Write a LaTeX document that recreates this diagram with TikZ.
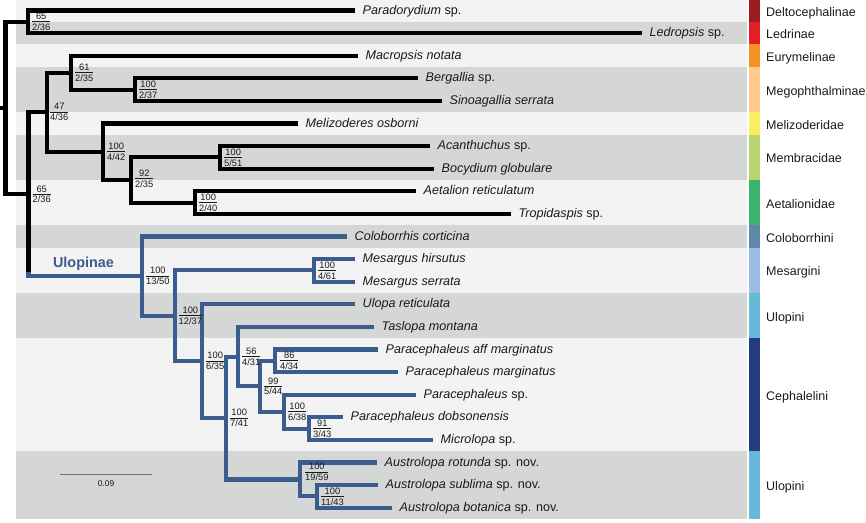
\documentclass[tikz,border=0pt]{standalone}
\usepackage{fontspec}
\setmainfont{Liberation Sans}
\definecolor{bluebr}{RGB}{59,93,141}
\definecolor{bandL}{RGB}{243,243,243}
\definecolor{bandD}{RGB}{213,214,214}
\definecolor{cDelto}{RGB}{156,27,32}
\definecolor{cLedr}{RGB}{228,30,37}
\definecolor{cEury}{RGB}{243,147,35}
\definecolor{cMego}{RGB}{253,204,141}
\definecolor{cMeli}{RGB}{248,238,97}
\definecolor{cMemb}{RGB}{185,212,108}
\definecolor{cAeta}{RGB}{61,179,112}
\definecolor{cColo}{RGB}{94,137,170}
\definecolor{cMesa}{RGB}{156,189,229}
\definecolor{cUlop}{RGB}{102,185,215}
\definecolor{cCeph}{RGB}{35,61,128}
\definecolor{txt}{RGB}{26,26,26}
\setlength{\arrayrulewidth}{0.6pt}
\newcommand{\bsv}[2]{{\def\arraystretch{0}\begin{tabular}{@{}c@{}}#1\rule[-1.8pt]{0pt}{1.8pt}\\\hline\rule{0pt}{8.4pt}#2\end{tabular}}}
\tikzset{
  kbr/.style={line width=4.1pt, black},
  bbr/.style={line width=4.1pt, bluebr},
  tip/.style={anchor=west, inner xsep=7.5pt, inner ysep=0pt, text height=7pt, text depth=0pt, text=txt, font=\fontsize{12.6}{14}\selectfont},
  bsl/.style={anchor=west, inner sep=0pt, text=txt, font=\fontsize{9.3}{9.3}\selectfont},
  grp/.style={anchor=base west, inner sep=0pt, text=txt, font=\fontsize{12.5}{14}\selectfont},
}
\begin{document}
\begin{tikzpicture}[x=1pt,y=-1pt]
\useasboundingbox (0,0) rectangle (866,522);
% bands
\fill[bandL] (16,0) rectangle (747,21.8);
\fill[bandD] (16,21.8) rectangle (747,44.4);
\fill[bandL] (16,44.4) rectangle (747,67.0);
\fill[bandD] (16,67.0) rectangle (747,112.2);
\fill[bandL] (16,112.2) rectangle (747,134.8);
\fill[bandD] (16,134.8) rectangle (747,180.0);
\fill[bandL] (16,180.0) rectangle (747,225.2);
\fill[bandD] (16,225.2) rectangle (747,247.8);
\fill[bandL] (16,247.8) rectangle (747,293.0);
\fill[bandD] (16,293.0) rectangle (747,338.2);
\fill[bandL] (16,338.2) rectangle (747,451.2);
\fill[bandD] (16,451.2) rectangle (747,519.0);
% colour bar
\fill[cDelto] (749,0) rectangle (760,21.8);
\fill[cLedr] (749,21.8) rectangle (760,44.4);
\fill[cEury] (749,44.4) rectangle (760,67.0);
\fill[cMego] (749,67.0) rectangle (760,112.2);
\fill[cMeli] (749,112.2) rectangle (760,134.8);
\fill[cMemb] (749,134.8) rectangle (760,180.0);
\fill[cAeta] (749,180.0) rectangle (760,225.2);
\fill[cColo] (749,225.2) rectangle (760,247.8);
\fill[cMesa] (749,247.8) rectangle (760,293.0);
\fill[cUlop] (749,293.0) rectangle (760,338.2);
\fill[cCeph] (749,338.2) rectangle (760,451.2);
\fill[cUlop] (749,451.2) rectangle (760,519.0);
% group labels
\node[grp] (g1) at (766,16.4) {Deltocephalinae};
\node[grp] (g2) at (766,38.6) {Ledrinae};
\node[grp] (g3) at (766,61.2) {Eurymelinae};
\node[grp] (g4) at (766,95.1) {Megophthalminae};
\node[grp] (g5) at (766,129.0) {Melizoderidae};
\node[grp] (g6) at (766,162.9) {Membracidae};
\node[grp] (g7) at (766,208.1) {Aetalionidae};
\node[grp] (g8) at (766,242.0) {Coloborrhini};
\node[grp] (g9) at (766,275.9) {Mesargini};
\node[grp] (g10) at (766,321.1) {Ulopini};
\node[grp] (g11) at (766,400.2) {Cephalelini};
\node[grp] (g12) at (766,490.6) {Ulopini};
% tips
\node[tip] (t1) at (355,10.5) {\textit{Paradorydium} sp.};
\node[tip] (t2) at (642,33.1) {\textit{Ledropsis} sp.};
\node[tip] (t3) at (358,55.7) {\textit{Macropsis notata}};
\node[tip] (t4) at (418,78.3) {\textit{Bergallia} sp.};
\node[tip] (t5) at (442,100.9) {\textit{Sinoagallia serrata}};
\node[tip] (t6) at (298,123.5) {\textit{Melizoderes osborni}};
\node[tip] (t7) at (430,146.1) {\textit{Acanthuchus} sp.};
\node[tip] (t8) at (434,168.7) {\textit{Bocydium globulare}};
\node[tip] (t9) at (416,191.3) {\textit{Aetalion reticulatum}};
\node[tip] (t10) at (511,213.9) {\textit{Tropidaspis} sp.};
\node[tip] (t11) at (347,236.5) {\textit{Coloborrhis corticina}};
\node[tip] (t12) at (355,259.1) {\textit{Mesargus hirsutus}};
\node[tip] (t13) at (355,281.7) {\textit{Mesargus serrata}};
\node[tip] (t14) at (355,304.3) {\textit{Ulopa reticulata}};
\node[tip] (t15) at (374,326.9) {\textit{Taslopa montana}};
\node[tip] (t16) at (378,349.5) {\textit{Paracephaleus aff marginatus}};
\node[tip] (t17) at (398,372.1) {\textit{Paracephaleus marginatus}};
\node[tip] (t18) at (416,394.7) {\textit{Paracephaleus} sp.};
\node[tip] (t19) at (343,417.3) {\textit{Paracephaleus dobsonensis}};
\node[tip] (t20) at (433,439.9) {\textit{Microlopa} sp.};
\node[tip] (t21) at (377,462.5) {\textit{Austrolopa rotunda} sp. nov.};
\node[tip] (t22) at (378,485.1) {\textit{Austrolopa sublima} sp. nov.};
\node[tip] (t23) at (392,507.7) {\textit{Austrolopa botanica} sp. nov.};
% internal nodes
\coordinate (r0) at (0,108);
\coordinate (root) at (5.5,108);
\coordinate (nA) at (28,21.8);
\coordinate (nB) at (28.5,194.2);
\coordinate (nBk) at (28.5,272);
\coordinate (nC) at (47,112.2);
\coordinate (nD) at (71,72.65);
\coordinate (nE) at (135,89.6);
\coordinate (nF) at (103,151.75);
\coordinate (nG) at (131,180.0);
\coordinate (nH) at (220,157.4);
\coordinate (nI) at (195,202.6);
\coordinate (nU) at (142,276.15);
\coordinate (nM) at (314,270.4);
\coordinate (nV) at (175,315.8);
\coordinate (nW) at (202,361.15);
\coordinate (nX) at (226,418);
\coordinate (nY) at (238,356.55);
\coordinate (nZ) at (260,386.2);
\coordinate (nP1) at (275,360.8);
\coordinate (nP2) at (284,411.65);
\coordinate (nP3) at (309,428.6);
\coordinate (nA1) at (300,479.45);
\coordinate (nA2) at (317,496.4);
% black branches
\draw[kbr] (r0) -- (root);
\draw[kbr] (root) |- (nA);
\draw[kbr] (root) |- (nB);
\draw[kbr] (nA) |- (t1.west);
\draw[kbr] (nA) |- (t2.west);
\draw[kbr] (nB) |- (nC);
\draw[kbr] (nB) -- (nBk);
\draw[kbr] (nC) |- (nD);
\draw[kbr] (nC) |- (nF);
\draw[kbr] (nD) |- (t3.west);
\draw[kbr] (nD) |- (nE);
\draw[kbr] (nE) |- (t4.west);
\draw[kbr] (nE) |- (t5.west);
\draw[kbr] (nF) |- (t6.west);
\draw[kbr] (nF) |- (nG);
\draw[kbr] (nG) |- (nH);
\draw[kbr] (nG) |- (nI);
\draw[kbr] (nH) |- (t7.west);
\draw[kbr] (nH) |- (t8.west);
\draw[kbr] (nI) |- (t9.west);
\draw[kbr] (nI) |- (t10.west);
% blue branches
\draw[bbr] (nBk) |- (nU);
\draw[bbr] (nU) |- (t11.west);
\draw[bbr] (nU) |- (nV);
\draw[bbr] (nV) |- (nM);
\draw[bbr] (nV) |- (nW);
\draw[bbr] (nM) |- (t12.west);
\draw[bbr] (nM) |- (t13.west);
\draw[bbr] (nW) |- (t14.west);
\draw[bbr] (nW) |- (nX);
\draw[bbr] (nX) |- (nY);
\draw[bbr] (nX) |- (nA1);
\draw[bbr] (nY) |- (t15.west);
\draw[bbr] (nY) |- (nZ);
\draw[bbr] (nZ) |- (nP1);
\draw[bbr] (nZ) |- (nP2);
\draw[bbr] (nP1) |- (t16.west);
\draw[bbr] (nP1) |- (t17.west);
\draw[bbr] (nP2) |- (t18.west);
\draw[bbr] (nP2) |- (nP3);
\draw[bbr] (nP3) |- (t19.west);
\draw[bbr] (nP3) |- (t20.west);
\draw[bbr] (nA1) |- (t21.west);
\draw[bbr] (nA1) |- (nA2);
\draw[bbr] (nA2) |- (t22.west);
\draw[bbr] (nA2) |- (t23.west);
% support labels
\node[bsl] (lA) at (32,21.8) {\bsv{65}{2/36}};
\node[bsl] (lB) at (32.5,194.2) {\bsv{65}{2/36}};
\node[bsl] (lC) at (50,112.2) {\bsv{47}{4/36}};
\node[bsl] (lD) at (75,72.65) {\bsv{61}{2/35}};
\node[bsl] (lE) at (139,89.6) {\bsv{100}{2/37}};
\node[bsl] (lF) at (107,151.75) {\bsv{100}{4/42}};
\node[bsl] (lG) at (135,178.5) {\bsv{92}{2/35}};
\node[bsl] (lH) at (224,157.4) {\bsv{100}{5/51}};
\node[bsl] (lI) at (199,202.6) {\bsv{100}{2/40}};
\node[bsl] (lU) at (146,276.15) {\bsv{100}{13/50}};
\node[bsl] (lM) at (318,270.4) {\bsv{100}{4/61}};
\node[bsl] (lV) at (178.5,315.8) {\bsv{100}{12/37}};
\node[bsl] (lW) at (206,361.15) {\bsv{100}{6/35}};
\node[bsl] (lX) at (230,418) {\bsv{100}{7/41}};
\node[bsl] (lY) at (242,356.55) {\bsv{56}{4/31}};
\node[bsl] (lZ) at (264,386.2) {\bsv{99}{5/44}};
\node[bsl] (lP1) at (280,360.8) {\bsv{86}{4/34}};
\node[bsl] (lP2) at (288,411.65) {\bsv{100}{6/38}};
\node[bsl] (lP3) at (313,428.6) {\bsv{91}{3/43}};
\node[bsl] (lA1) at (305,472) {\bsv{100}{19/59}};
\node[bsl] (lA2) at (321,496.4) {\bsv{100}{11/43}};
% Ulopinae label
\node[anchor=base, inner sep=0pt, text=bluebr, font=\fontsize{14.4}{16}\selectfont\bfseries] (ulo) at (83.5,267.7) {Ulopinae};
% scale bar
\coordinate (sb1) at (60,474);
\coordinate (sb2) at (152,474);
\draw[line width=1pt, black!55] (sb1) -- (sb2);
\node[inner sep=0pt, text=txt, font=\fontsize{8.4}{9}\selectfont] (sbl) at (106,483.5) {0.09};
\end{tikzpicture}
\end{document}
